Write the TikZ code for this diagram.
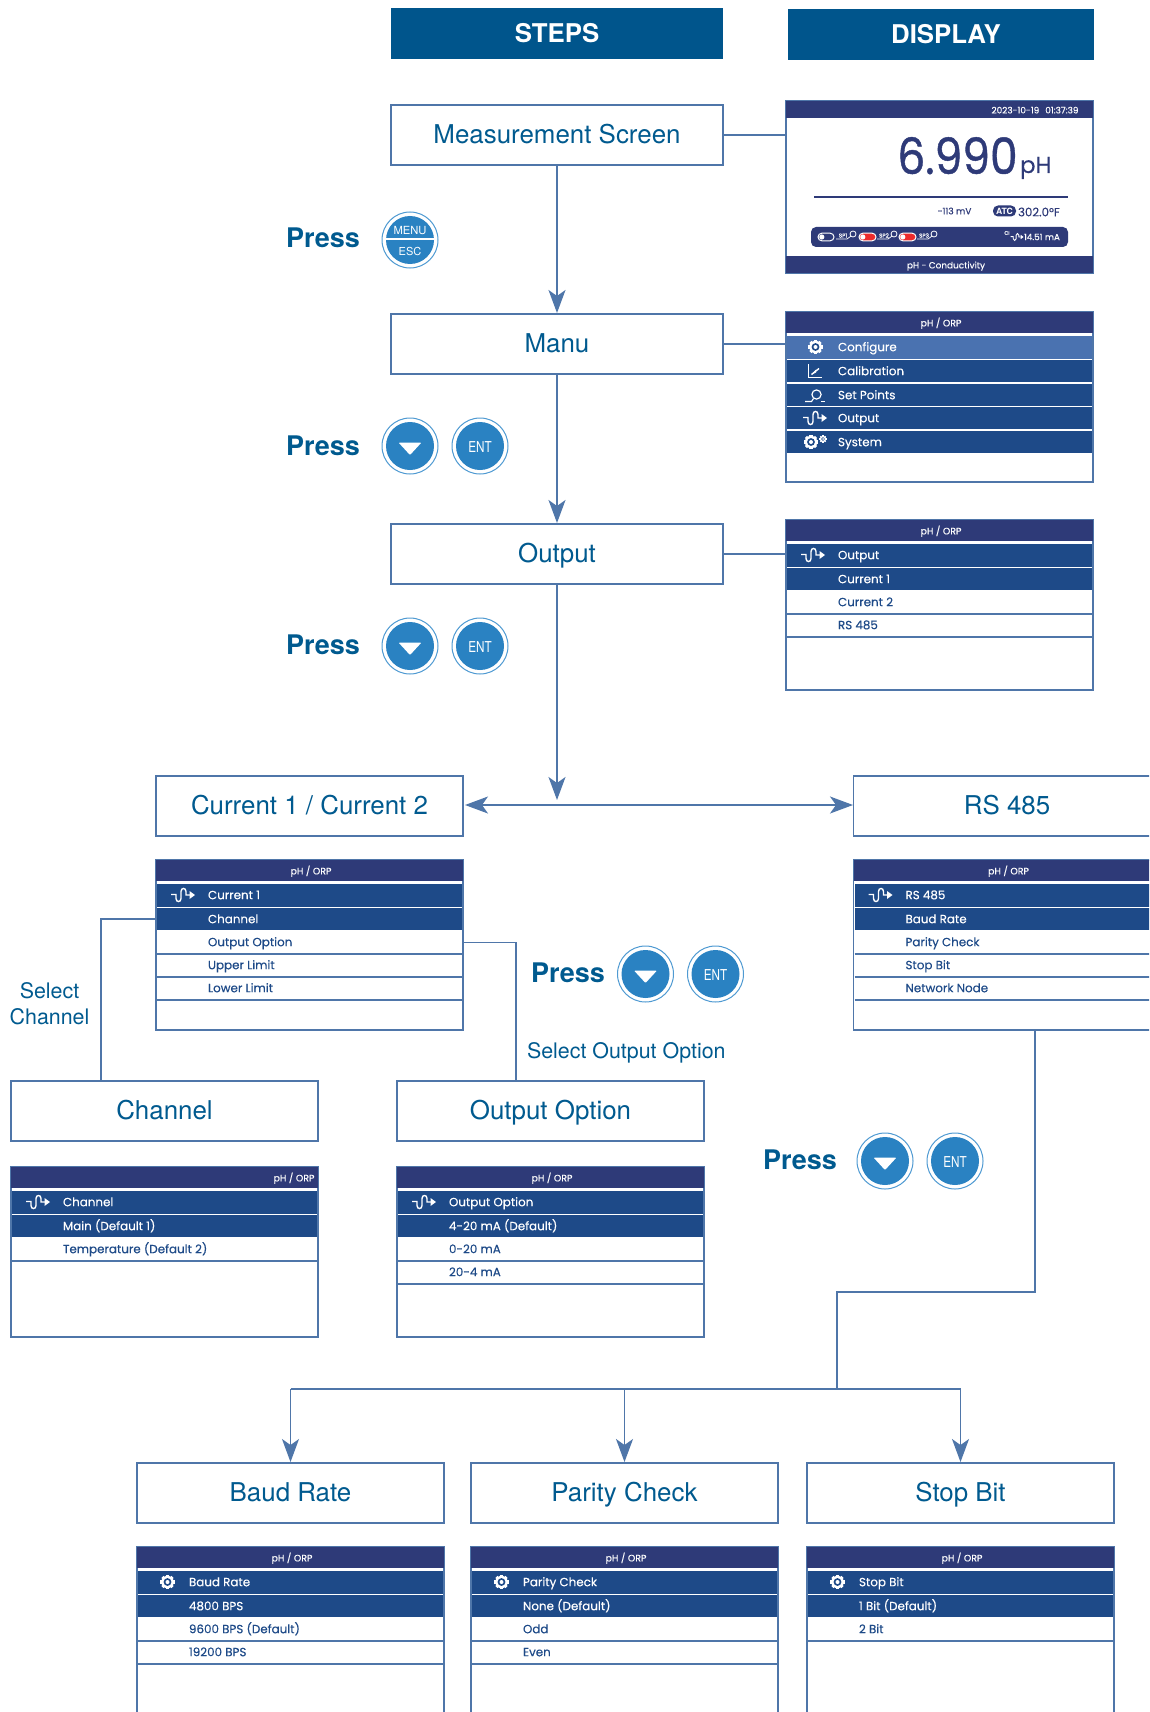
\documentclass[tikz,border=0pt]{standalone}
\usepackage{fontspec}
\setmainfont{TeX Gyre Heros}
\newfontfamily\popf[FakeBold=0.25]{Poppins}
\newfontfamily\popb[FakeBold=0.9]{Poppins}
\usetikzlibrary{arrows.meta,calc}
\definecolor{headblue}{HTML}{00558C}
\definecolor{txtblue}{HTML}{005A8F}
\definecolor{linec}{HTML}{4F76A9}
\definecolor{navy}{HTML}{2E3A78}
\definecolor{rowblue}{HTML}{1E4A88}
\definecolor{hilite}{HTML}{4A72B0}
\definecolor{btnblue}{HTML}{2A82C2}
\definecolor{ringc}{HTML}{4F9AD2}
\definecolor{tgred}{HTML}{EE2B2B}
\newcommand{\fsz}[1]{\fontsize{#1}{#1}\selectfont}
\tikzset{
  x=1pt,y=-1pt,
  every node/.style={inner sep=0pt,outer sep=0pt},
  headbox/.style={fill=headblue,text=white,font=\bfseries\fsz{25.8},minimum height=51,anchor=north west},
  stepbox/.style={draw=linec,line width=1.4,fill=white,text=txtblue,font=\fsz{25.9},minimum width=307,minimum height=60,text height=16.8,text depth=0,anchor=north west},
  conn/.style={draw=linec,line width=1.4},
  arr/.style={conn,-{Stealth[length=23,width=17,inset=6]}},
  frameb/.style={draw=linec,line width=1.6,fill=white,minimum width=307,minimum height=170,anchor=north west},
  hdr/.style={fill=navy,minimum width=307,minimum height=21,anchor=north west},
  rowd/.style={fill=rowblue,minimum width=305,anchor=north west},
  rowh/.style={fill=hilite,minimum width=305,anchor=north west},
  roww/.style={minimum width=305,minimum height=23,anchor=north west},
  wlab/.style={text=white,font=\popf\fsz{11.9},text height=8.4,text depth=0,anchor=west},
  blab/.style={text=rowblue,font=\popf\fsz{11.9},text height=8.4,text depth=0,anchor=west},
  hlab/.style={text=white,font=\popf\fsz{9.4},text height=6.8,text depth=0},
  presslab/.style={text=txtblue,font=\bfseries\fsz{27}},
  plain/.style={text=txtblue,font=\fsz{21.4}},
  outerring/.style={circle,draw=ringc,line width=1,fill=white,minimum size=56},
  innerbtn/.style={circle,fill=btnblue,minimum size=48,text=white},
  gearicon/.pic={
    \foreach \a in {0,45,...,315}{\draw[white,line width=3.1] (0,0) -- (\a:7.1);}
    \fill[white] (0,0) circle (6.2);
    \fill[rowblue] (0,0) circle (3.9);
    \fill[white] (0,0) circle (2);
  },
  panelgear/.pic={\pic at (3.5,0) {gearicon};},
  smallgear/.pic={
    \foreach \a in {0,45,...,315}{\draw[white,line width=1.4] (0,0) -- (\a:3.8);}
    \fill[white] (0,0) circle (3.2);
    \fill[rowblue] (0,0) circle (1.9);
    \fill[white] (0,0) circle (1);
  },
  waveicon/.pic={
    \draw[white,line width=1.4] (-12,-0.5) -- (-7,-0.5) -- (-7,3.5) .. controls (-7,7.5) and (-2,7.5) .. (-2,3.5) -- (-2,-3.5) .. controls (-2,-7.5) and (3,-7.5) .. (3,-3.5) -- (3,0) -- (7,0);
    \fill[white] (6.5,-4) -- (12,0) -- (6.5,4) -- cycle;
  },
  calicon/.pic={
    \draw[white,line width=1.1] (-6.5,-7) -- (-6.5,6.5) -- (7,6.5);
    \draw[white,line width=1.4] (-3.5,3.5) -- (4,-2.5);
    \fill[white] (-3.5,3.5) -- (1,-1.5) -- (1,1.5) -- cycle;
  },
  setpticon/.pic={
    \draw[white,line width=1.1] (-10,6.5) -- (-3.5,6.5) -- (-1.5,3.5);
    \draw[white,line width=1.2] (1.5,-0.5) circle (4.6);
    \draw[white,line width=1.1] (6,6.5) -- (10,6.5);
  },
  togw/.pic={
    \draw[white,fill=navy,line width=1,rounded corners=3.8] (0,-3.8) rectangle (16,3.8);
    \fill[white] (3.8,0) circle (2.6);
  },
  togr/.pic={
    \draw[white,fill=tgred,line width=1,rounded corners=3.8] (0,-3.8) rectangle (17,3.8);
    \fill[white] (3.8,0) circle (2.6);
  },
}
% [title shift], name, x, y, icon pic, row 1, row 2, white rows
\newcommand{\menupanel}[8][1.5]{
  \node[frameb] (#2) at (#3,#4) {};
  \node[hdr] (#2-h) at (#3,#4) {};
  \node[hlab] (#2-ht) at ($(#2-h.center)+(#1,0.5)$) {pH / ORP};
  \node[rowd,minimum height=23] (#2-r1) at (#3+1,#4+24) {};
  \node[rowd,minimum height=22] (#2-r2) at (#3+1,#4+48) {};
  \pic at (#3+27,#4+35) {#5};
  \node[wlab] (#2-t1) at (#3+52,#4+35) {#6};
  \node[wlab] (#2-t2) at (#3+52,#4+59) {#7};
  \foreach \t [count=\i] in {#8}{
    \node[roww] (#2-w\i) at (#3+1,#4+48+\i*23) {};
    \node[blab] (#2-wt\i) at (#3+52,#4+59+\i*23) {\t};
    \draw[conn] (#2-w\i.south west) -- (#2-w\i.south east);
  }
}
\newcommand{\downbtn}[3]{
  \node[outerring] (#1-o) at (#2,#3) {};
  \node[innerbtn] (#1) at (#2,#3) {};
  \fill[white,rounded corners=1] (#2-11.5,#3-3.5) -- (#2+11.5,#3-3.5) -- (#2,#3+9) -- cycle;
}
\newcommand{\entbtn}[3]{
  \node[outerring] (#1-o) at (#2,#3) {};
  \node[innerbtn] (#1) at (#2,#3) {};
  \node[text=white,font=\fsz{15}] (#1-t) at (#2,#3+1.2) {\scalebox{0.78}[1]{ENT}};
}
\begin{document}
\begin{tikzpicture}
\useasboundingbox (0,0) rectangle (1149,1712);
\clip (0,0) rectangle (1149,1712);

% column headers
\node[headbox,minimum width=332] (steps) at (391,8) {STEPS};
\node[headbox,minimum width=306] (display) at (788,9) {\hspace{10pt}DISPLAY};

% step boxes
\node[stepbox,minimum width=332] (meas) at (391,105) {Measurement Screen};
\node[stepbox,minimum width=332] (manu) at (391,314) {Manu};
\node[stepbox,minimum width=332] (outp) at (391,524) {Output};
\node[stepbox] (curr) at (156,776) {Current 1 / Current 2};
\node[stepbox] (rsb) at (853.5,776) {RS 485};
\node[stepbox] (chan) at (11,1081) {Channel};
\node[stepbox] (oopt) at (397,1081) {Output Option};
\node[stepbox] (baud) at (137,1463) {Baud Rate};
\node[stepbox] (pari) at (471,1463) {Parity Check};
\node[stepbox] (stop) at (807,1463) {Stop Bit};

% measurement display
\node[frameb,minimum height=172] (p1) at (786,101) {};
\node[hdr,minimum height=17] (p1-h) at (786,101) {};
\node[hdr,minimum height=17] (p1-f) at (786,256) {};
\node[hlab,font=\popf\fsz{8.9}] (p1-d) at (1035,110) {2023-10-19\hspace{6pt}01:37:39};
\node[hlab,font=\popf\fsz{8.9}] (p1-ft) at (946,265) {pH - Conductivity};
\node[text=navy,font=\popb\fsz{50},anchor=base] (p1-v) at (957.5,174) {\scalebox{0.88}[1]{6.990}};
\node[text=navy,font=\popf\fsz{23},anchor=base west] (p1-u) at (1020,173) {pH};
\draw[navy,line width=1.4] (814,197) -- (1068,197);
\node[text=navy,font=\popf\fsz{9}] (p1-mv) at (954.5,211) {-113 mV};
\node[fill=navy,text=white,rounded corners=5,minimum width=23,minimum height=11,font=\bfseries\fsz{8.6}] (p1-atc) at (1004.5,211) {ATC};
\node[text=navy,font=\popf\fsz{11.8},anchor=west] (p1-t) at (1018,212) {302.0°F};
\fill[navy,rounded corners=5] (811,227) rectangle (1068,247);
\pic at (818,237) {togw};
\pic at (859,237) {togr};
\pic at (899,237) {togr};
\foreach \n/\xx/\lab in {a/836/SP1,b/877/SP2,c/917/SP3}{
  \node[text=white,font=\popf\fsz{5.6}] (sp\n) at (\xx+7,235.5) {\lab};
  \draw[white,line width=.7] (\xx,239) -- (\xx+11,239) -- (\xx+15,236);
  \draw[white,line width=.8] (\xx+17,234) circle (3);
}
\node[text=white,font=\popf\fsz{5}] (p1-ci) at (1007,233) {CI};
\begin{scope}[shift={(1017,237)},scale=.62]
  \draw[white,line width=.9] (-10.5,-0.5) -- (-6,-0.5) -- (-6,3) .. controls (-6,6.5) and (-1.5,6.5) .. (-1.5,3) -- (-1.5,-3) .. controls (-1.5,-6.5) and (3,-6.5) .. (3,-3) -- (3,0) -- (6,0);
  \fill[white] (6,-3.5) -- (10.5,0) -- (6,3.5) -- cycle;
\end{scope}
\node[text=white,font=\popf\fsz{8.8},anchor=west] (p1-ma) at (1024,237) {14.51 mA};

% main menu display
\node[frameb] (p2) at (786,312) {};
\node[hdr] (p2-h) at (786,312) {};
\node[hlab] (p2-ht) at ($(p2-h.center)+(1.5,0.5)$) {pH / ORP};
\node[rowh,minimum height=23] (p2-r1) at (787,336) {};
\node[rowd,minimum height=22] (p2-r2) at (787,360) {};
\node[rowd,minimum height=22] (p2-r3) at (787,384) {};
\node[rowd,minimum height=22] (p2-r4) at (787,407) {};
\node[rowd,minimum height=22] (p2-r5) at (787,431) {};
\node[wlab] (p2-t1) at (838,347) {Configure};
\node[wlab] (p2-t2) at (838,371) {Calibration};
\node[wlab] (p2-t3) at (838,395) {Set Points};
\node[wlab] (p2-t4) at (838,418) {Output};
\node[wlab] (p2-t5) at (838,442) {System};
\pic at (815.5,347) {gearicon};
\pic at (815,371) {calicon};
\pic at (815,395) {setpticon};
\pic at (815,418) {waveicon};
\pic at (811,442) {gearicon};
\pic at (823,439) {smallgear};

% menu panels
\menupanel{p3}{786}{520}{waveicon}{Output}{Current 1}{Current 2,RS 485}
\menupanel{p4}{156}{860}{waveicon}{Current 1}{Channel}{Output Option,Upper Limit,Lower Limit}
\menupanel{p5}{853.5}{860}{waveicon}{RS 485}{Baud Rate}{Parity Check,Stop Bit,Network Node}
\menupanel[129.5]{p6}{11}{1167}{waveicon}{Channel}{Main (Default 1)}{Temperature (Default 2)}
\menupanel{p7}{397}{1167}{waveicon}{Output Option}{4-20 mA (Default)}{0-20 mA,20-4 mA}
\menupanel{p8}{137}{1547}{panelgear}{Baud Rate}{4800 BPS}{9600 BPS (Default),19200 BPS}
\menupanel{p9}{471}{1547}{panelgear}{Parity Check}{None (Default)}{Odd,Even}
\menupanel{p10}{807}{1547}{panelgear}{Stop Bit}{1 Bit (Default)}{2 Bit}

% press labels and buttons
\node[presslab] (pr1) at (323,238) {Press};
\node[outerring] (b1-o) at (410,240) {};
\node[innerbtn] (b1) at (410,240) {};
\draw[white,line width=2] (386,239.5) -- (434,239.5);
\node[text=white,font=\fsz{11.2}] (b1-m) at (410,231) {MENU};
\node[text=white,font=\fsz{11}] (b1-e) at (410,251.5) {ESC};
\node[presslab] (pr2) at (323,446) {Press};
\downbtn{b2}{410}{446}
\entbtn{b3}{480}{446}
\node[presslab] (pr3) at (323,645) {Press};
\downbtn{b4}{410}{646}
\entbtn{b5}{480}{646}
\node[presslab] (pr4) at (568,973) {Press};
\downbtn{b6}{645.5}{974}
\entbtn{b7}{715.5}{974}
\node[presslab] (pr5) at (800,1160) {Press};
\downbtn{b8}{885}{1161}
\entbtn{b9}{955}{1161}

% plain labels
\node[plain,align=center,font=\fontsize{21.4}{26}\selectfont] (selch) at (49.5,1004) {Select\\Channel};
\node[plain,anchor=west] (selop) at (527,1053) {Select Output Option};

% connectors
\coordinate (hbus) at (557,805);
\coordinate (chanin) at (101,1081);
\coordinate (ooptin) at (516,1081);
\coordinate (rsout) at (1035,1030);
\coordinate (rsturn) at (1035,1292);
\coordinate (rsdrop) at (837,1292);
\coordinate (bus) at (837,1389);
\coordinate (vtip) at (557,800);
\draw[conn] (meas.east) -- (meas.east -| p1.west);
\draw[conn] (manu.east) -- (manu.east -| p2.west);
\draw[conn] (outp.east) -- (outp.east -| p3.west);
\draw[arr,shorten >=1] (meas.south) -- (manu.north);
\draw[arr,shorten >=1] (manu.south) -- (outp.north);
\draw[arr] (outp.south) -- (vtip);
\draw[arr,shorten >=2] (hbus) -- (curr.east |- hbus);
\draw[arr,shorten >=0.5] (hbus) -- (rsb.west |- hbus);
\draw[conn] (p4-r2.west) -| (chanin);
\draw[conn] (p4-w1.east) -| (ooptin);
\draw[conn] (rsout) -- (rsturn) -- (rsdrop) -- (bus);
\draw[conn] (baud.north |- bus) -- (stop.north |- bus);
\draw[arr,shorten >=1] (baud.north |- bus) -- (baud.north);
\draw[arr,shorten >=1] (pari.north |- bus) -- (pari.north);
\draw[arr,shorten >=1] (stop.north |- bus) -- (stop.north);
\end{tikzpicture}
\end{document}
